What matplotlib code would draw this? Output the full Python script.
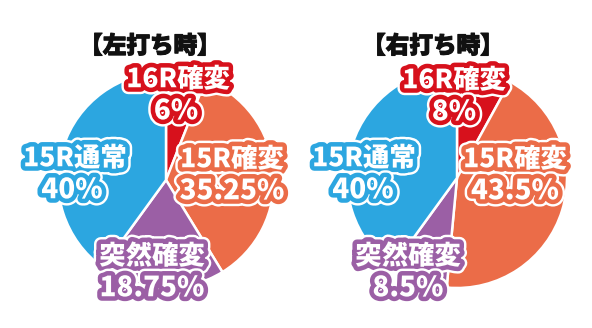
import matplotlib
matplotlib.use("Agg")
import matplotlib.pyplot as plt
import matplotlib.patheffects as pe

plt.rcParams['font.family'] = ['Noto Sans CJK JP', 'DejaVu Sans']

categories = ['16R確変', '15R確変', '突然確変', '15R通常']
left_values = [6, 35.25, 18.75, 40]
right_values = [8, 43.5, 8.5, 40]
left_labels = ['6%', '35.25%', '18.75%', '40%']
right_labels = ['8%', '43.5%', '8.5%', '40%']
titles = ['【左打ち時】', '【右打ち時】']
colors = ['#D7111C', '#EB6C48', '#9B5FA5', '#2CA6E0']

W, H = 592, 328
fig = plt.figure(figsize=(W / 100, H / 100), dpi=100)
fig.patch.set_facecolor('white')

def px_axes(cx, cy, r):
    return [(cx - r) / W, 1 - (cy + r) / H, 2 * r / W, 2 * r / H]

pies = [
    dict(center=(166, 180), r=108, values=left_values, labels=left_labels,
         title=titles[0], title_pos=(150, 46),
         pos=[((178, 79), (176, 111)), ((232, 159), (232, 191)),
              ((152, 256), (152, 288)), ((75, 158), (72, 190))]),
    dict(center=(457, 178), r=110, values=right_values, labels=right_labels,
         title=titles[1], title_pos=(433, 46),
         pos=[((454, 80), (454, 112)), ((515, 159), (515, 191)),
              ((408, 256), (408, 288)), ((364, 158), (363, 190))]),
]

for p in pies:
    cx, cy = p['center']
    ax = fig.add_axes(px_axes(cx, cy, p['r']))
    ax.pie(p['values'], colors=colors, startangle=90, counterclock=False,
           radius=1.0, wedgeprops=dict(edgecolor='white', linewidth=1.8))
    ax.set_xlim(-1, 1)
    ax.set_ylim(-1, 1)
    ax.set_aspect('equal')
    ax.axis('off')

    tx, ty = p['title_pos']
    fig.text(tx / W, 1 - ty / H, p['title'], ha='center', va='center',
             fontsize=17, fontweight='black', color='#111111',
             path_effects=[pe.withStroke(linewidth=0.8, foreground='#111111')])

    for i, (cat, lab) in enumerate(zip(categories, p['labels'])):
        (x1, y1), (x2, y2) = p['pos'][i]
        effects = [pe.withStroke(linewidth=10, foreground='white'),
                   pe.withStroke(linewidth=6.5, foreground=colors[i])]
        fig.text(x1 / W, 1 - y1 / H, cat, ha='center', va='center',
                 fontsize=19, fontweight='black', color='white',
                 path_effects=effects, zorder=10)
        fig.text(x2 / W, 1 - y2 / H, lab, ha='center', va='center',
                 fontsize=20, fontweight='black', color='white',
                 path_effects=effects, zorder=10)

fig.savefig('out.png', dpi=100, facecolor='white')
